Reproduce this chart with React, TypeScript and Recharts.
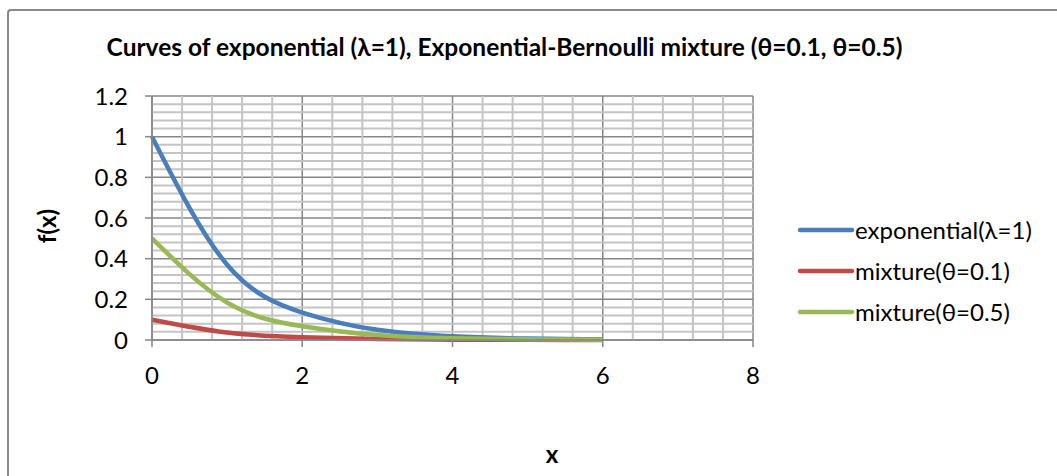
import React from 'react';
import { LineChart, Line, XAxis, YAxis, CartesianGrid, ReferenceLine, Legend } from 'recharts';

const xValues = [0, 1, 2, 3, 4, 5, 6];
const expValues = [1, 0.37, 0.135, 0.05, 0.018, 0.007, 0.0025];
const mix01Values = [0.1, 0.037, 0.0135, 0.005, 0.0018, 0.0007, 0.00025];
const mix05Values = [0.5, 0.184, 0.068, 0.025, 0.009, 0.0034, 0.0012];

const xTicks = [0, 2, 4, 6, 8];
const yTicks = [0, 0.2, 0.4, 0.6, 0.8, 1, 1.2];
const xMinorTicks = [0.4, 0.8, 1.2, 1.6, 2.4, 2.8, 3.2, 3.6, 4.4, 4.8, 5.2, 5.6, 6.4, 6.8, 7.2, 7.6];
const yMinorTicks = [
  0.04, 0.08, 0.12, 0.16, 0.24, 0.28, 0.32, 0.36, 0.44, 0.48, 0.52, 0.56,
  0.64, 0.68, 0.72, 0.76, 0.84, 0.88, 0.92, 0.96, 1.04, 1.08, 1.12, 1.16,
];

const seriesNames = ['exponential(λ=1)', 'mixture(θ=0.1)', 'mixture(θ=0.5)'];
const seriesColors = ['#4A7EBB', '#BE4B48', '#98B954'];

const data = xValues.map((x, i) => ({
  x,
  exp: expValues[i],
  mix01: mix01Values[i],
  mix05: mix05Values[i],
}));

const FONT = 'Lato, "Open Sans", sans-serif';
const MAJOR = '#868686';
const MINOR = '#C4C4C4';

const renderLegend = (props: any) => {
  const payload = props.payload || [];
  return (
    <div style={{ fontFamily: FONT, fontSize: 24, color: '#000' }}>
      {payload.map((entry: any, i: number) => (
        <div key={i} style={{ display: 'flex', alignItems: 'center', height: 41 }}>
          <svg width={58} height={10} style={{ display: 'block' }}>
            <line x1={3} y1={5} x2={55} y2={5} stroke={entry.color} strokeWidth={4.5} strokeLinecap="round" />
          </svg>
          <span style={{ marginLeft: 0, whiteSpace: 'nowrap', lineHeight: '24px' }}>{entry.value}</span>
        </div>
      ))}
    </div>
  );
};

export default function App() {
  return (
    <div style={{ position: 'absolute', left: 0, top: 0, width: 1057, height: 476, background: '#fff', overflow: 'hidden' }}>
      <div
        style={{
          position: 'absolute', left: 7, top: 9, width: 1200, height: 600,
          borderLeft: '2px solid #8A8A8A', borderTop: '2px solid #8A8A8A', borderTopLeftRadius: 4,
        }}
      />
      <div
        style={{
          position: 'absolute', left: 0, width: 1009, top: 34, textAlign: 'center', lineHeight: '26px',
          fontFamily: FONT, fontWeight: 700, fontSize: 24.5, color: '#000', whiteSpace: 'nowrap',
        }}
      >
        Curves of exponential (λ=1), Exponential-Bernoulli mixture (θ=0.1, θ=0.5)
      </div>
      <div style={{ position: 'absolute', left: 0, top: 0 }}>
        <LineChart
          width={1057}
          height={476}
          data={data}
          margin={{ top: 96, right: 304, bottom: 96, left: 92 }}
        >
          {xMinorTicks.map((v) => (
            <ReferenceLine key={'xm' + v} x={v} stroke={MINOR} strokeWidth={2} />
          ))}
          {yMinorTicks.map((v) => (
            <ReferenceLine key={'ym' + v} y={v} stroke={MINOR} strokeWidth={2} />
          ))}
          <CartesianGrid stroke={MAJOR} strokeWidth={1.5} />
          <XAxis
            dataKey="x"
            type="number"
            domain={[0, 8]}
            ticks={xTicks}
            height={40}
            stroke={MAJOR}
            strokeWidth={1.5}
            tickSize={7}
            tickMargin={20}
            tick={{ fill: '#000', fontSize: 24, fontFamily: FONT }}
            label={{
              content: () => (
                <text x={552} y={453} textAnchor="middle" dominantBaseline="central" fontFamily={FONT} fontWeight={700} fontSize={24} fill="#000">
                  x
                </text>
              ),
            }}
          />
          <YAxis
            type="number"
            domain={[0, 1.2]}
            ticks={yTicks}
            width={60}
            stroke={MAJOR}
            strokeWidth={1.5}
            tickSize={7}
            tickMargin={17}
            tick={{ fill: '#000', fontSize: 24, fontFamily: FONT }}
            label={{
              content: () => (
                <text
                  x={46}
                  y={226}
                  transform="rotate(-90 46 226)"
                  textAnchor="middle"
                  dominantBaseline="central"
                  fontFamily={FONT}
                  fontWeight={700}
                  fontSize={24}
                  fill="#000"
                >
                  f(x)
                </text>
              ),
            }}
          />
          <Line type="natural" dataKey="exp" name={seriesNames[0]} stroke={seriesColors[0]} strokeWidth={4.5} dot={false} isAnimationActive={false} />
          <Line type="natural" dataKey="mix01" name={seriesNames[1]} stroke={seriesColors[1]} strokeWidth={4.5} dot={false} isAnimationActive={false} />
          <Line type="natural" dataKey="mix05" name={seriesNames[2]} stroke={seriesColors[2]} strokeWidth={4.5} dot={false} isAnimationActive={false} />
          <Legend
            layout="horizontal"
            verticalAlign="middle"
            align="center"
            content={renderLegend}
            wrapperStyle={{ left: 797, top: 209, right: 'auto', bottom: 'auto', width: 260 }}
          />
        </LineChart>
      </div>
    </div>
  );
}
